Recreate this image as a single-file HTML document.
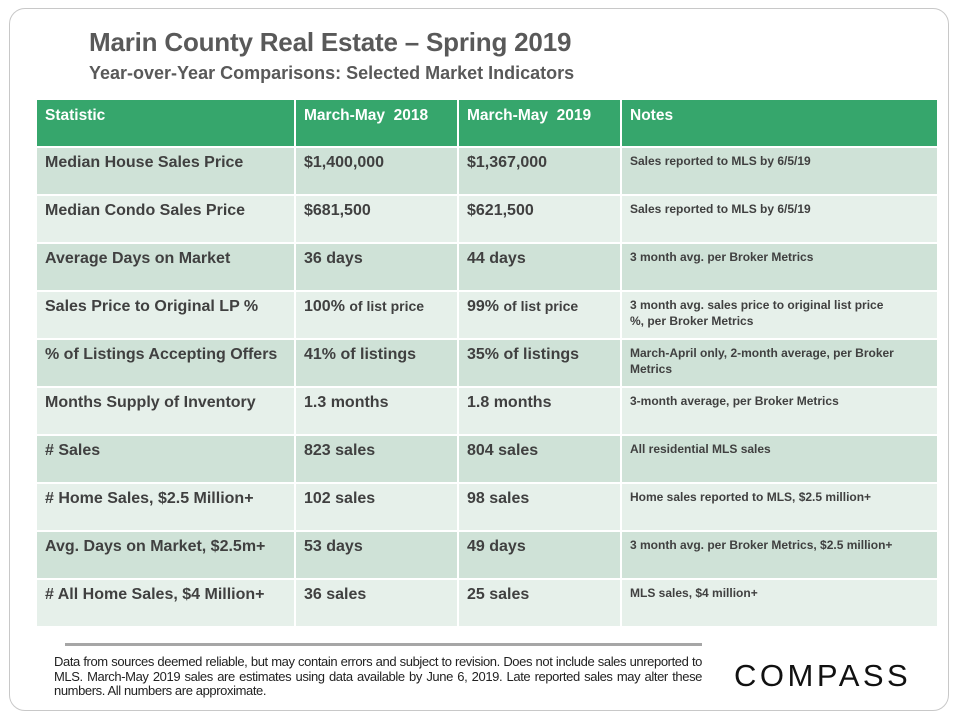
<!DOCTYPE html>
<html><head><meta charset="utf-8"><style>
body{margin:0;width:960px;height:720px;background:#fff;font-family:"Liberation Sans",sans-serif;position:relative;overflow:hidden}
.card{position:absolute;left:9px;top:8px;width:940px;height:703px;border:1px solid #c8c8c8;border-radius:16px;box-sizing:border-box}
h1{position:absolute;left:89px;top:27px;margin:0;font-size:26px;font-weight:bold;color:#595959;letter-spacing:-0.2px}
h2{position:absolute;left:89px;top:63px;margin:0;font-size:18px;font-weight:bold;color:#595959}
table{position:absolute;left:35px;top:98px;border-collapse:collapse;table-layout:fixed}
td,th{border:2px solid #fff;vertical-align:top;text-align:left;padding:6px 8px 0 8px;color:#404040;font-weight:bold;font-size:16px;box-sizing:border-box}
th{background:#36a66c;color:#fff;height:48px;padding-top:7px;font-size:15.5px}
tr{height:48px}
tr.d td{background:#cfe2d7}
tr.l td{background:#e6f0ea}
td.n{font-size:12px;padding-top:5px;line-height:16px;padding-right:6px}
td small{font-size:14px}
.rule{position:absolute;left:65px;top:643px;width:637px;height:3px;background:#a6a6a6}
.foot{position:absolute;left:54px;top:655px;width:648px;font-size:13px;line-height:14.5px;color:#222;text-align:justify;letter-spacing:-0.4px}
.logo{position:absolute;left:734px;top:658px;font-size:31px;letter-spacing:3.5px;color:#111}
</style></head><body>
<div class="card"></div>
<h1>Marin County Real Estate – Spring 2019</h1>
<h2>Year-over-Year Comparisons: Selected Market Indicators</h2>
<table>
<colgroup><col style="width:259px"><col style="width:163px"><col style="width:163px"><col style="width:317px"></colgroup>
<tr><th>Statistic</th><th>March-May&nbsp; 2018</th><th>March-May&nbsp; 2019</th><th>Notes</th></tr>
<tr class="d"><td>Median House Sales Price</td><td>$1,400,000</td><td>$1,367,000</td><td class="n">Sales reported to MLS by 6/5/19</td></tr>
<tr class="l"><td>Median Condo Sales Price</td><td>$681,500</td><td>$621,500</td><td class="n">Sales reported to MLS by 6/5/19</td></tr>
<tr class="d"><td>Average Days on Market</td><td>36 days</td><td>44 days</td><td class="n">3 month avg. per Broker Metrics</td></tr>
<tr class="l"><td>Sales Price to Original LP %</td><td>100% <small>of list price</small></td><td>99% <small>of list price</small></td><td class="n">3 month avg. sales price to original list price<br>%, per Broker Metrics</td></tr>
<tr class="d"><td>% of Listings Accepting Offers</td><td>41% of listings</td><td>35% of listings</td><td class="n">March-April only, 2-month average, per Broker Metrics</td></tr>
<tr class="l"><td>Months Supply of Inventory</td><td>1.3 months</td><td>1.8 months</td><td class="n">3-month average, per Broker Metrics</td></tr>
<tr class="d"><td># Sales</td><td>823 sales</td><td>804 sales</td><td class="n">All residential MLS sales</td></tr>
<tr class="l"><td># Home Sales, $2.5 Million+</td><td>102 sales</td><td>98 sales</td><td class="n">Home sales reported to MLS, $2.5 million+</td></tr>
<tr class="d"><td>Avg. Days on Market, $2.5m+</td><td>53 days</td><td>49 days</td><td class="n">3 month avg. per Broker Metrics, $2.5 million+</td></tr>
<tr class="l"><td># All Home Sales, $4 Million+</td><td>36 sales</td><td>25 sales</td><td class="n">MLS sales, $4 million+</td></tr>
</table>
<div class="rule"></div>
<div class="foot">Data from sources deemed reliable, but may contain errors and subject to revision. Does not include sales unreported to MLS. March-May 2019 sales are estimates using data available by June 6, 2019. Late reported sales may alter these numbers. All numbers are approximate.</div>
<div class="logo">COMPASS</div>
</body></html>
